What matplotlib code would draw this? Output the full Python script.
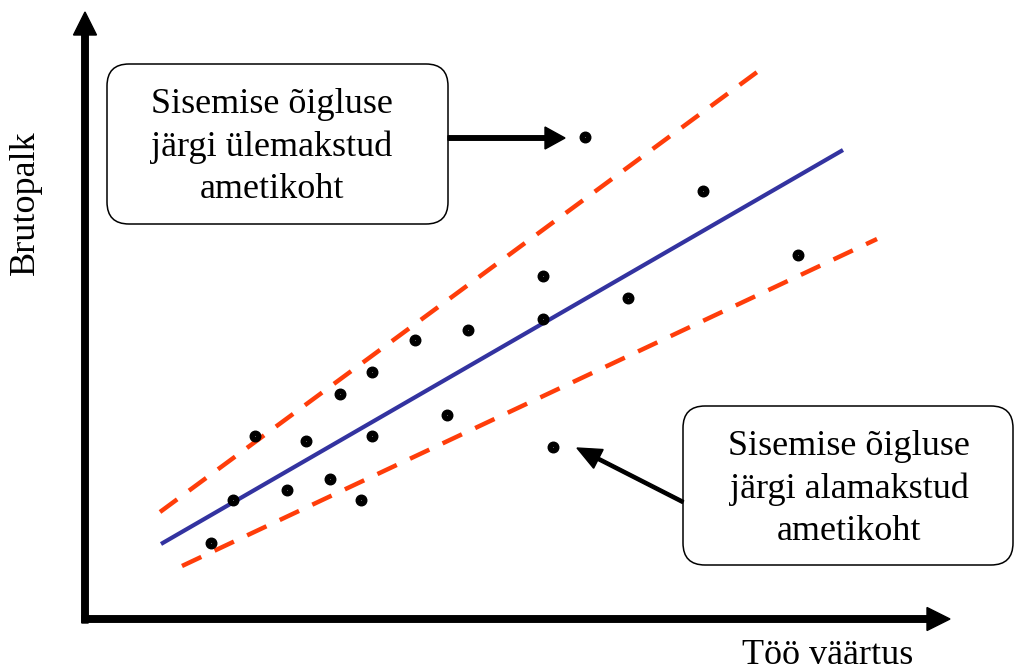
import numpy as np
import matplotlib
matplotlib.use("Agg")
import matplotlib.pyplot as plt
from matplotlib.patches import FancyBboxPatch

# Andmed (suvalised ühikud, alguspunkt telgede ristumiskohas)
too_vaartus = [126, 148, 170, 202, 221, 245, 255, 276, 287, 287,
               330, 362, 383, 458, 458, 468, 500, 543, 618, 713]
brutopalk = [76, 119, 183, 129, 178, 140, 225, 119, 247, 183,
             279, 204, 289, 343, 300, 172, 482, 321, 428, 364]

# Palgajoon ja õigluse piirid (algus- ja lõpp-punkt)
palgajoon_x = [76, 758]
palgajoon_y = [75, 469]
ylemine_x = [75, 683]
ylemine_y = [107, 555]
alumine_x = [97, 792]
alumine_y = [53, 380]

tekst_yle = "Sisemise õigluse\njärgi ülemakstud\nametikoht"
tekst_ala = "Sisemise õigluse\njärgi alamakstud\nametikoht"
silt_x = "Töö väärtus"
silt_y = "Brutopalk"

plt.rcParams['font.family'] = ['Liberation Serif', 'DejaVu Serif']

fig = plt.figure(figsize=(10.16, 6.70), dpi=100)
ax = fig.add_axes([0, 0, 1, 1])
ax.set_xlim(-85, 931)
ax.set_ylim(-51, 619)
ax.axis("off")

# Teljed noolena
ax.arrow(0, -4, 0, 611, width=6.5, head_width=23, head_length=23,
         length_includes_head=True, color="black", zorder=3)
ax.arrow(-3, 0, 868, 0, width=6.5, head_width=23, head_length=23,
         length_includes_head=True, color="black", zorder=3)

# Jooned
ax.plot(palgajoon_x, palgajoon_y, color="#3333A0", lw=3.0, solid_capstyle="butt")
ax.plot(ylemine_x, ylemine_y, color="#FF3D0A", lw=3.2, ls=(0, (4.8, 3.3)))
ax.plot(alumine_x, alumine_y, color="#FF3D0A", lw=3.2, ls=(0, (4.8, 3.3)))

# Punktid
ax.plot(too_vaartus, brutopalk, "o", color="black", ms=7.6, zorder=4)
ax.plot(too_vaartus, brutopalk, "o", color="#666666", ms=0.7, mew=0, zorder=5)

# Kastid
kast1 = FancyBboxPatch((22, 395), 341, 160, boxstyle="round,pad=0,rounding_size=22",
                       fc="white", ec="black", lw=1.1, zorder=2)
kast2 = FancyBboxPatch((598, 54), 330, 159, boxstyle="round,pad=0,rounding_size=22",
                       fc="white", ec="black", lw=1.1, zorder=2)
ax.add_patch(kast1)
ax.add_patch(kast2)
ax.text(187, 472, tekst_yle, ha="center", va="center", fontsize=26,
        linespacing=1.35, zorder=3)
ax.text(764, 130, tekst_ala, ha="center", va="center", fontsize=26,
        linespacing=1.35, zorder=3)

# Viitenooled
ax.arrow(363, 481, 117, 0, width=4.5, head_width=22, head_length=20,
         length_includes_head=True, color="black", zorder=3)
ax.arrow(598, 117, -106, 54, width=3.2, head_width=21, head_length=24,
         length_includes_head=True, color="black", zorder=3)

# Telgede sildid
ax.text(743, -36, silt_x, ha="center", va="center", fontsize=26)
ax.text(-60, 416, silt_y, ha="center", va="center", fontsize=26, rotation=90)

fig.savefig("out.png", dpi=100)
